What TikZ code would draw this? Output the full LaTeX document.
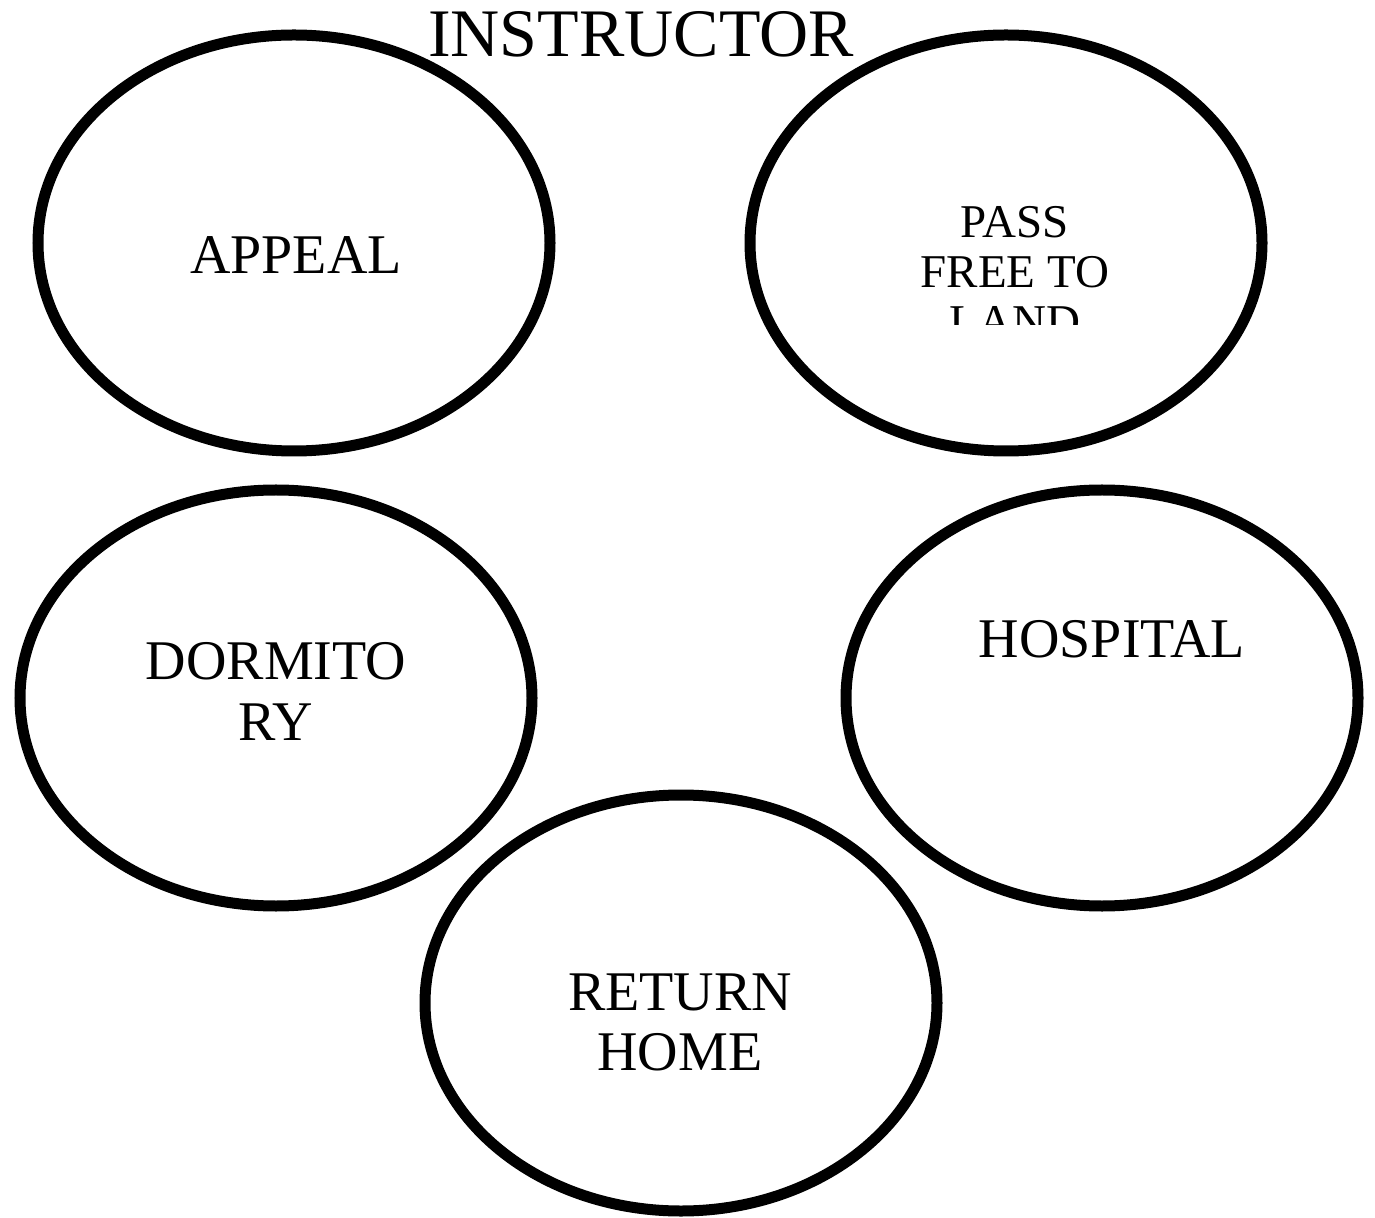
\documentclass[tikz,border=0pt]{standalone}
\usepackage{fontspec}
\setmainfont{Liberation Serif}
\usetikzlibrary{shapes.geometric}

\tikzset{
  room/.style={draw, ellipse, line width=5.5pt, inner sep=0pt,
    minimum width=256pt, minimum height=208pt},
  word/.style={anchor=base, align=center, inner sep=0pt,
    font=\fontsize{28}{30}\selectfont},
  smallword/.style={word, font=\fontsize{23.5}{25}\selectfont}
}

\begin{document}
\begin{tikzpicture}[x=0.5pt, y=-0.5pt]
  \useasboundingbox (0,0) rectangle (1375,1218);

  \node[room] (Appeal)   at (294,243)  {};
  \node[room] (PassFree) at (1006,243) {};
  \node[room] (Dormitory) at (276,698) {};
  \node[room] (Hospital) at (1102,698) {};
  \node[room] (ReturnHome) at (681,1003) {};

  \node[word, font=\fontsize{34}{36}\selectfont] (Instructor) at (641,57) {INSTRUCTOR};
  \node[word] (AppealText) at (296,274) {APPEAL};
  \begin{scope}
    \clip (850,150) rectangle (1180,325);
    \node[smallword] (PassText) at (1015,338) {PASS\\FREE TO\\LAND};
  \end{scope}
  \node[word] (HospitalText) at (1112,658) {HOSPITAL};
  \node[word] (DormText) at (276,740) {DORMITO\\RY};
  \node[word] (ReturnText) at (680,1070) {RETURN\\HOME};
\end{tikzpicture}
\end{document}
